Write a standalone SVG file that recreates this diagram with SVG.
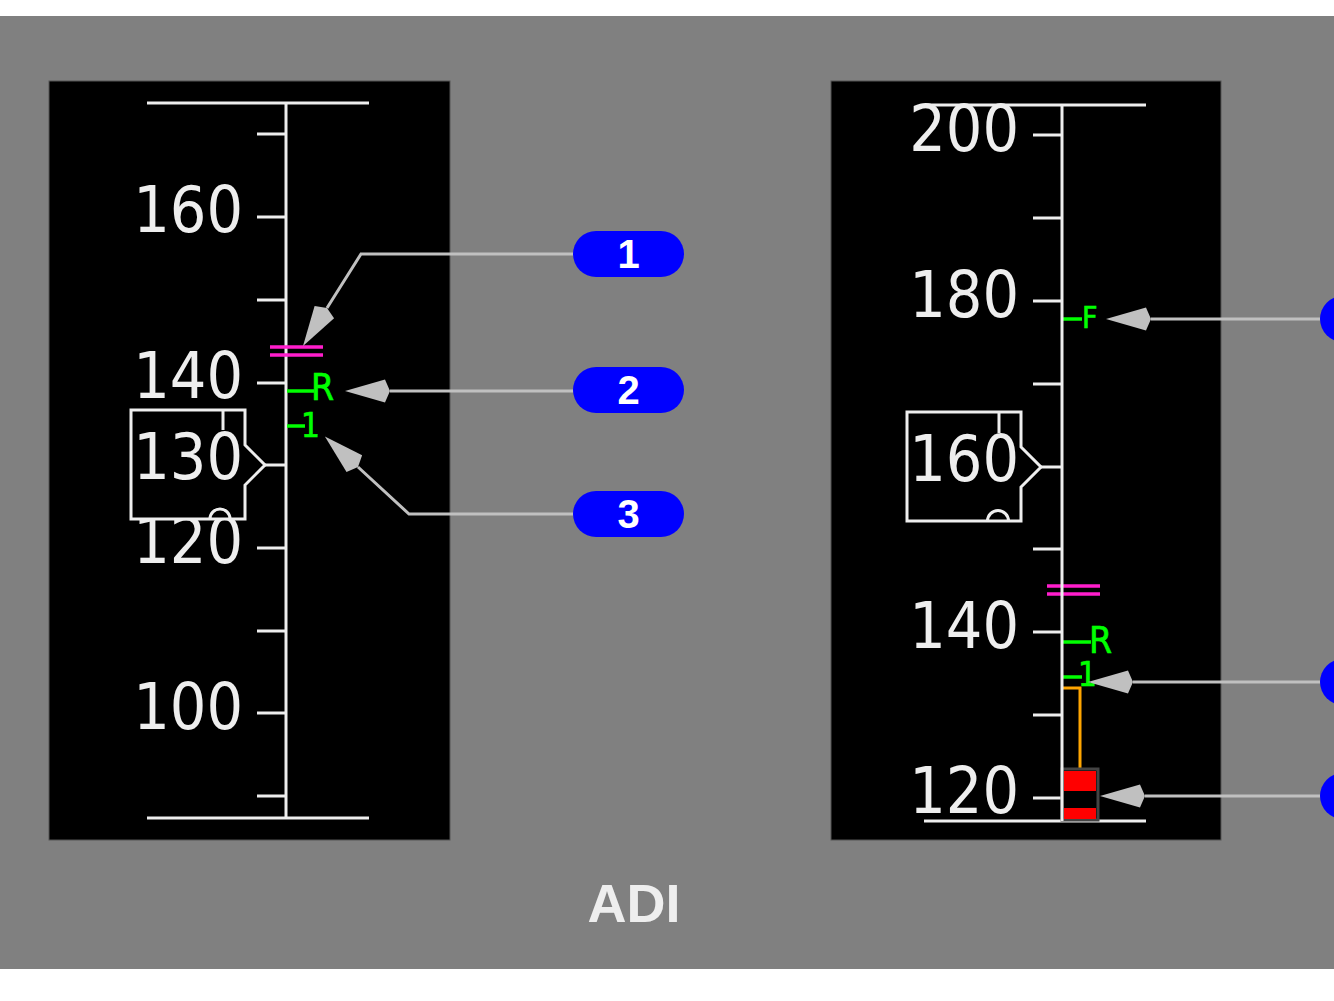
<svg xmlns="http://www.w3.org/2000/svg" width="1334" height="1001" viewBox="0 0 1334 1001">
<style>
.tape{stroke:#eeeeee;stroke-width:3;fill:none}
.box{stroke:#eeeeee;stroke-width:3;fill:#000}
.num{font-family:"DejaVu Sans Condensed","DejaVu Sans",sans-serif;font-stretch:condensed;font-size:64px;fill:#eeeeee;text-anchor:end}
.grn{stroke:#00ff00;stroke-width:3.5}
.gtxt{font-family:"DejaVu Sans Condensed","DejaVu Sans",sans-serif;font-stretch:condensed;fill:#00ff00;stroke:#00ff00;stroke-width:0.6}
.mag{stroke:#ff1ecc;stroke-width:3.5}
.pill{fill:#0000ff}
.ptxt{font-family:"Liberation Sans",Arial,sans-serif;font-weight:bold;font-size:40px;fill:#ffffff;text-anchor:middle}
.conn{stroke:#c0c0c0;stroke-width:3;fill:none;marker-end:url(#kite)}
</style>
<defs>
<marker id="kite" viewBox="-1 -13 48 26" refX="0" refY="0" markerWidth="48" markerHeight="26" markerUnits="userSpaceOnUse" orient="auto">
<path d="M45,0 L5,-11.5 L0,0 L5,11.5 Z" fill="#c0c0c0"/>
</marker>
</defs>
<rect x="0" y="0" width="1334" height="1001" fill="#ffffff"/>
<rect x="0" y="16" width="1334" height="953" fill="#808080"/>

<g id="left-panel">
<rect x="49" y="81" width="401" height="759" fill="#000" stroke="#555" stroke-width="1"/>
<path class="tape" d="M147,103 H369 M286,103 V818 M147,818 H369 M257,134 H286 M257,217 H286 M257,300 H286 M257,383 H286 M257,548 H286 M257,631 H286 M257,713 H286 M257,796 H286 M265,465 H286"/>
<text class="num" x="243" y="232">160</text>
<text class="num" x="243" y="398">140</text>
<text class="num" x="243" y="563">120</text>
<text class="num" x="243" y="729">100</text>
<path class="box" d="M245,445 L265,465 L245,485 V519 H131 V410 H245 Z"/>
<path class="tape" d="M223,410 V430 M210,519 A10,10 0 0 1 230,519"/>
<text class="num" x="243" y="479">130</text>
<line class="mag" x1="270" y1="347" x2="323" y2="347"/>
<line class="mag" x1="270" y1="355" x2="323" y2="355"/>
<line class="grn" x1="287" y1="391" x2="314" y2="391"/>
<text class="gtxt" x="311" y="400" font-size="37">R</text>
<line class="grn" x1="287" y1="426" x2="305" y2="426"/>
<text class="gtxt" x="301" y="437" font-size="33">1</text>
</g>

<g id="right-panel">
<rect x="831" y="81" width="390" height="759" fill="#000" stroke="#555" stroke-width="1"/>
<text class="num" x="1019" y="151">200</text>
<text class="num" x="1019" y="317">180</text>
<text class="num" x="1019" y="648">140</text>
<text class="num" x="1019" y="813">120</text>
<path class="tape" d="M925,105 H1146 M924,821 H1146 M1033,135 H1062 M1033,218 H1062 M1033,301 H1062 M1033,384 H1062 M1033,549 H1062 M1033,632 H1062 M1033,715 H1062 M1033,798 H1062 M1041,467 H1062"/>
<path class="box" d="M1021,447 L1041,467 L1021,487 V521 H907 V412 H1021 Z"/>
<path class="tape" d="M999,412 V433 M987.5,521 A10.5,10.5 0 0 1 1008.5,521"/>
<text class="num" x="1019" y="481">160</text>
<line class="mag" x1="1047" y1="586" x2="1100" y2="586"/>
<line class="mag" x1="1047" y1="594" x2="1100" y2="594"/>
<line class="grn" x1="1062" y1="319" x2="1082" y2="319"/>
<text class="gtxt" x="1082" y="328" font-size="30">F</text>
<line class="grn" x1="1062" y1="642" x2="1091" y2="642"/>
<text class="gtxt" x="1089" y="653" font-size="37">R</text>
<line class="grn" x1="1062" y1="677" x2="1082" y2="677"/>
<text class="gtxt" x="1078" y="686" font-size="33">1</text>
<polyline points="1062,688 1080,688 1080,769" fill="none" stroke="#ffa500" stroke-width="3"/>
<rect x="1062" y="769" width="36" height="51" fill="#000" stroke="#444" stroke-width="3"/>
<rect x="1064" y="771" width="32" height="20" fill="#ff0000"/>
<rect x="1064" y="808" width="32" height="11" fill="#ff0000"/>
<path class="tape" d="M1062,105 V821"/>
</g>

<g id="callout-1"><rect class="pill" x="573" y="231" width="111" height="46" rx="23"/><text class="ptxt" x="628.5" y="268">1</text></g>
<g id="callout-2"><rect class="pill" x="573" y="367" width="111" height="46" rx="23"/><text class="ptxt" x="628.5" y="404">2</text></g>
<g id="callout-3"><rect class="pill" x="573" y="491" width="111" height="46" rx="23"/><text class="ptxt" x="628.5" y="528">3</text></g>
<g id="callout-4"><rect class="pill" x="1320" y="296" width="111" height="46" rx="23"/></g>
<g id="callout-5"><rect class="pill" x="1320" y="659" width="111" height="46" rx="23"/></g>
<g id="callout-6"><rect class="pill" x="1320" y="773" width="111" height="46" rx="23"/></g>

<g id="connectors">
<path class="conn" d="M573,254 H361 L327,308"/>
<path class="conn" d="M573,391 H390"/>
<path class="conn" d="M573,514 H409 L358,467"/>
<path class="conn" d="M1320,319 H1151"/>
<path class="conn" d="M1320,682 H1133"/>
<path class="conn" d="M1320,796 H1145"/>
</g>

<text x="634" y="922" font-family="'Liberation Sans',Arial,sans-serif" font-weight="bold" font-size="54" fill="#eeeeee" text-anchor="middle">ADI</text>
</svg>
